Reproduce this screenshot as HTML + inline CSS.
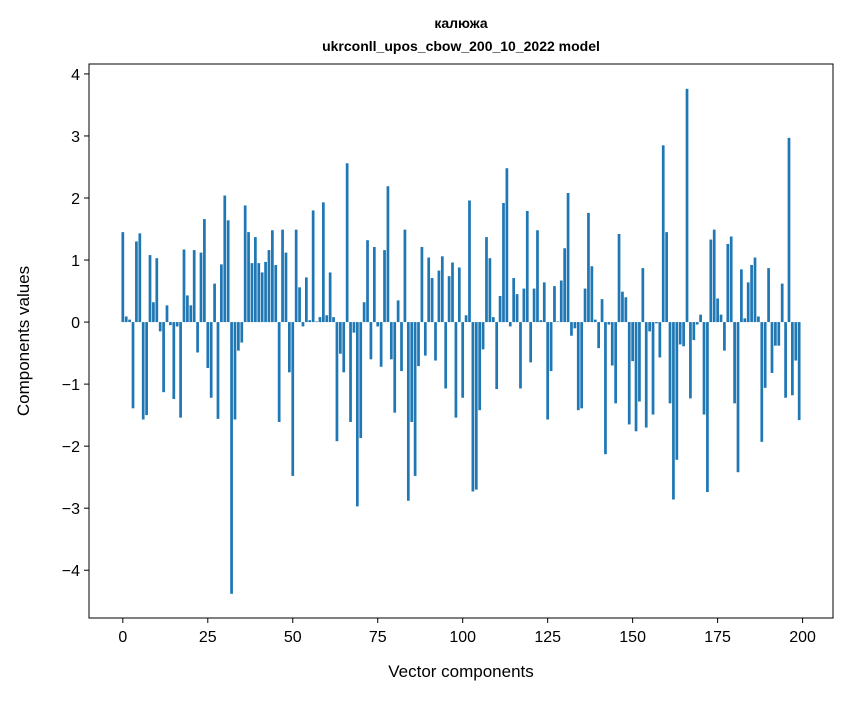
<!DOCTYPE html>
<html><head><meta charset="utf-8"><style>
body{margin:0;background:#fff;font-family:"Liberation Sans",sans-serif;}
svg text{font-family:"Liberation Sans","DejaVu Sans",sans-serif;}
</style></head><body>
<svg id="chart" width="847" height="696" xmlns="http://www.w3.org/2000/svg">
<rect width="847" height="696" fill="#fff"/>
<text x="461" y="28" text-anchor="middle" font-size="14" font-weight="bold">калюжа</text>
<text x="461" y="51" text-anchor="middle" font-size="14" font-weight="bold">ukrconll_upos_cbow_200_10_2022 model</text>
<g id="bars"></g>
<g id="xticks"></g>
<g id="yticks"></g>
<rect x="89" y="64" width="744" height="554" fill="none" stroke="#000" stroke-width="1"/>
<text x="461" y="677" text-anchor="middle" font-size="17">Vector components</text>
<text transform="translate(29,341) rotate(-90)" text-anchor="middle" font-size="17">Components values</text>
</svg>
<script>
const values = [1.45,0.09,0.04,-1.39,1.30,1.43,-1.57,-1.50,1.08,0.32,1.03,-0.15,-1.13,0.27,-0.05,-1.24,-0.07,-1.54,1.17,0.43,
0.27,1.16,-0.49,1.12,1.66,-0.74,-1.22,0.62,-1.56,0.93,2.04,1.64,-4.38,-1.57,-0.46,-0.33,1.88,1.45,0.95,1.37,
0.95,0.80,0.97,1.16,1.48,0.92,-1.61,1.49,1.12,-0.81,-2.48,1.49,0.56,-0.07,0.72,0.03,1.80,0.01,0.08,1.93,
0.11,0.80,0.08,-1.92,-0.51,-0.81,2.56,-1.61,-0.17,-2.97,-1.87,0.32,1.32,-0.60,1.21,-0.07,-0.72,1.16,2.19,-0.60,
-1.46,0.35,-0.79,1.49,-2.88,-1.61,-2.48,-0.71,1.21,-0.54,1.04,0.71,-0.62,0.83,1.06,-1.07,0.74,0.96,-1.54,0.88,
-1.22,0.11,1.96,-2.73,-2.70,-1.42,-0.44,1.37,1.03,0.08,-1.08,0.42,1.92,2.48,-0.07,0.71,0.45,-1.07,0.54,1.79,
-0.65,0.54,1.48,0.03,0.64,-1.57,-0.79,0.58,0.01,0.67,1.19,2.08,-0.22,-0.10,-1.42,-1.39,0.54,1.76,0.90,0.04,
-0.42,0.37,-2.13,-0.04,-0.70,-1.31,1.42,0.49,0.40,-1.65,-0.63,-1.76,-1.28,0.87,-1.70,-0.15,-1.49,-0.02,-0.57,2.85,
1.45,-1.31,-2.86,-2.22,-0.36,-0.39,3.76,-1.23,-0.29,-0.04,0.12,-1.49,-2.74,1.33,1.49,0.38,0.12,-0.46,1.26,1.38,
-1.31,-2.42,0.85,0.06,0.64,0.92,1.04,0.09,-1.93,-1.06,0.87,-0.82,-0.38,-0.38,0.62,-1.22,2.97,-1.18,-0.62,-1.58];
const xTickLabels = [0,25,50,75,100,125,150,175,200];
const yTickLabels = [-4,-3,-2,-1,0,1,2,3,4];
const NS="http://www.w3.org/2000/svg";
const X0=89, X1=833, Y0=64, Y1=618;
const xMin=-9.95, xMax=208.95, yMin=-4.77, yMax=4.16;
function xs(v){return X0+(v-xMin)/(xMax-xMin)*(X1-X0);}
function ys(v){return Y1-(v-yMin)/(yMax-yMin)*(Y1-Y0);}
const bw=(xs(0.8)-xs(0));
const gb=document.getElementById('bars');
values.forEach((v,i)=>{
  const r=document.createElementNS(NS,'rect');
  const y=Math.min(ys(v),ys(0)), h=Math.abs(ys(v)-ys(0));
  r.setAttribute('x',xs(i)-bw/2);r.setAttribute('y',y);
  r.setAttribute('width',bw);r.setAttribute('height',h);
  r.setAttribute('fill','#1f77b4');
  
  
  gb.appendChild(r);
});
const gx=document.getElementById('xticks');
xTickLabels.forEach(t=>{
  const l=document.createElementNS(NS,'line');
  l.setAttribute('x1',xs(t));l.setAttribute('x2',xs(t));l.setAttribute('y1',Y1);l.setAttribute('y2',Y1+5);
  l.setAttribute('stroke','#000');
  
  
  gx.appendChild(l);
  const tx=document.createElementNS(NS,'text');
  tx.setAttribute('x',xs(t));tx.setAttribute('y',Y1+24);tx.setAttribute('text-anchor','middle');tx.setAttribute('font-size','16');
  tx.textContent=t;
  
  
  gx.appendChild(tx);
});
const gy=document.getElementById('yticks');
yTickLabels.forEach(t=>{
  const l=document.createElementNS(NS,'line');
  l.setAttribute('x1',X0-5);l.setAttribute('x2',X0);l.setAttribute('y1',ys(t));l.setAttribute('y2',ys(t));
  l.setAttribute('stroke','#000');
  
  
  gy.appendChild(l);
  const tx=document.createElementNS(NS,'text');
  tx.setAttribute('x',X0-9);tx.setAttribute('y',ys(t)+6);tx.setAttribute('text-anchor','end');tx.setAttribute('font-size','16');
  tx.textContent=t<0?'\u2212'+Math.abs(t):String(t);
  
  
  gy.appendChild(tx);
});
</script>
</body></html>
